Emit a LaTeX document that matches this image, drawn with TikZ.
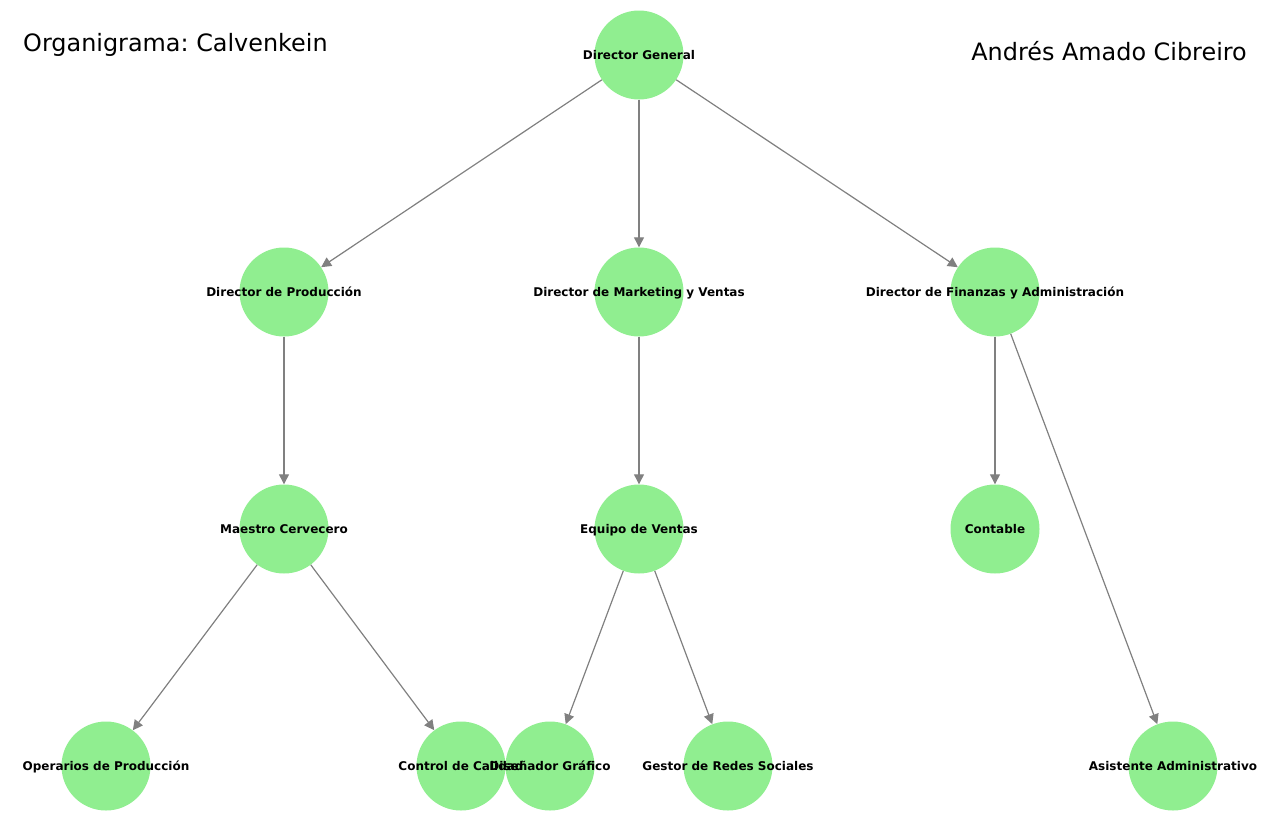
\documentclass[tikz,border=0pt]{standalone}
\usepackage{fontspec}
\setmainfont{DejaVu Sans}
\usetikzlibrary{arrows.meta}
\definecolor{verde}{HTML}{90EE90}
\definecolor{gris}{HTML}{808080}
\def\rot{\bfseries\fontsize{12}{13}\selectfont}
\frenchspacing

\begin{document}
\begin{tikzpicture}[x=1pt,y=-1pt,
  puesto/.style={circle,fill=verde,minimum size=89pt,inner sep=0pt},
  nombre/.style={font=\rot,inner sep=0pt,text height=9pt,text depth=0.8pt},
  jefe/.style={draw=gris,line width=1.2pt,-{Triangle[length=10pt,width=10pt]}}]
  \useasboundingbox (0,0) rectangle (1282,836);

  \node[puesto] (0) at (639,55) {};
  \node[puesto] (1) at (284,292) {};
  \node[puesto] (2) at (639,292) {};
  \node[puesto] (3) at (995,292) {};
  \node[puesto] (4) at (284,529) {};
  \node[puesto] (5) at (639,529) {};
  \node[puesto] (6) at (995,529) {};
  \node[puesto] (7) at (106,766) {};
  \node[puesto] (8) at (461,766) {};
  \node[puesto] (9) at (550,766) {};
  \node[puesto] (10) at (728,766) {};
  \node[puesto] (11) at (1173,766) {};

  \draw[jefe] (0) -- (1);
  \draw[jefe] (0) -- (2);
  \draw[jefe] (0) -- (3);
  \draw[jefe] (1) -- (4);
  \draw[jefe] (2) -- (5);
  \draw[jefe] (3) -- (6);
  \draw[jefe] (3) -- (11);
  \draw[jefe] (4) -- (7);
  \draw[jefe] (4) -- (8);
  \draw[jefe] (5) -- (9);
  \draw[jefe] (5) -- (10);

  \node[nombre] (n0) at (0) {Director General};
  \node[nombre] (n1) at (1) {Director de Producción};
  \node[nombre] (n2) at (2) {Director de Marketing y Ventas};
  \node[nombre] (n3) at (3) {Director de Finanzas y Administración};
  \node[nombre] (n4) at (4) {Maestro Cervecero};
  \node[nombre] (n5) at (5) {Equipo de Ventas};
  \node[nombre] (n6) at (6) {Contable};
  \node[nombre] (n7) at (7) {Operarios de Producción};
  \node[nombre] (n8) at (8) {Control de Calidad};
  \node[nombre] (n9) at (9) {Diseñador Gráfico};
  \node[nombre] (n10) at (10) {Gestor de Redes Sociales};
  \node[nombre] (n11) at (11) {Asistente Administrativo};

  \node[anchor=base west,inner sep=0pt,font=\fontsize{23.9}{26}\selectfont] (titulo) at (23,51) {Organigrama: Calvenkein};
  \node[anchor=base east,inner sep=0pt,font=\fontsize{23.9}{26}\selectfont] (autor) at (1247,60) {Andrés Amado Cibreiro};
\end{tikzpicture}
\end{document}
